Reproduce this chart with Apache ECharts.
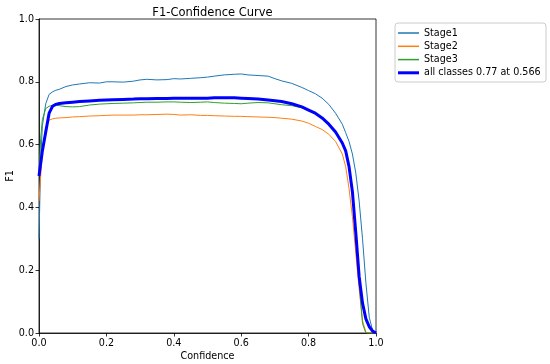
<!DOCTYPE html>
<html><head><meta charset="utf-8">
<script src="https://cdn.jsdelivr.net/npm/echarts@6/dist/echarts.min.js"></script>
<style>html,body{margin:0;padding:0;background:#fff}#c{width:550px;height:364px}</style>
</head><body><div id="c"></div>
<script>
const confidence = [0,0.005,0.01,0.02,0.03,0.04,0.05,0.06,0.08,0.1,0.12,0.15,0.18,0.2,0.22,0.25,0.28,0.3,0.32,0.35,0.38,0.4,0.42,0.45,0.48,0.5,0.52,0.55,0.58,0.6,0.62,0.65,0.68,0.7,0.72,0.75,0.78,0.8,0.82,0.84,0.86,0.88,0.9,0.91,0.92,0.93,0.94,0.95,0.96,0.97,0.98,0.99,1.0];
const stage1 = [0.30,0.55,0.66,0.73,0.76,0.768,0.773,0.776,0.785,0.79,0.793,0.797,0.796,0.80,0.80,0.799,0.802,0.806,0.808,0.806,0.807,0.81,0.809,0.811,0.813,0.815,0.818,0.822,0.824,0.825,0.822,0.82,0.818,0.81,0.803,0.795,0.782,0.772,0.762,0.748,0.728,0.70,0.665,0.638,0.61,0.57,0.51,0.42,0.30,0.16,0.05,0.008,0];
const stage2 = [0.42,0.50,0.58,0.655,0.678,0.682,0.684,0.685,0.686,0.688,0.689,0.691,0.692,0.693,0.694,0.694,0.694,0.695,0.695,0.696,0.697,0.696,0.694,0.695,0.693,0.693,0.692,0.691,0.690,0.690,0.689,0.688,0.687,0.686,0.684,0.681,0.675,0.668,0.658,0.648,0.633,0.61,0.57,0.53,0.46,0.37,0.255,0.14,0.04,0.002,0,0,0];
const stage3 = [0.50,0.62,0.68,0.715,0.722,0.725,0.726,0.724,0.721,0.72,0.721,0.726,0.729,0.73,0.731,0.732,0.733,0.734,0.735,0.735,0.736,0.736,0.735,0.734,0.735,0.736,0.734,0.732,0.731,0.73,0.732,0.734,0.733,0.73,0.727,0.724,0.717,0.708,0.697,0.683,0.663,0.64,0.605,0.575,0.53,0.44,0.31,0.16,0.03,0.0,0,0,0];
const allClasses = [0.50,0.54,0.58,0.64,0.70,0.722,0.728,0.731,0.733,0.735,0.737,0.739,0.741,0.742,0.743,0.744,0.745,0.746,0.746,0.747,0.747,0.748,0.748,0.748,0.748,0.748,0.749,0.749,0.749,0.748,0.747,0.745,0.742,0.74,0.737,0.73,0.72,0.71,0.70,0.685,0.665,0.64,0.605,0.58,0.53,0.45,0.32,0.18,0.095,0.045,0.02,0.006,0];
const seriesNames = ['Stage1','Stage2','Stage3','all classes 0.77 at 0.566'];
const seriesColors = ['#1f77b4','#ff7f0e','#2ca02c','#0000ff'];
const ticks = [0,0.2,0.4,0.6,0.8,1.0];

const pairs = arr => confidence.map((x,i)=>[x,arr[i]]);
const datas = [stage1,stage2,stage3,allClasses];
const FONT = 'DejaVu Sans';
const FS = 9.6;
const chart = echarts.init(document.getElementById('c'), null, {renderer:'canvas'});
const axisCommon = {
  type:'value', min:0, max:1, interval:0.2,
  axisLine:{show:true,lineStyle:{color:'#000',width:0.8}},
  axisTick:{show:true,inside:false,length:3.5,lineStyle:{color:'#000',width:0.8}},
  axisLabel:{fontFamily:FONT,fontSize:FS,color:'#000',margin:5,formatter:v=>v.toFixed(1)},
  splitLine:{show:false},
  nameLocation:'middle',
  nameMoveOverlap:false,
  nameTextStyle:{fontFamily:FONT,fontSize:FS,color:'#000'}
};
chart.setOption({
  animation:false,
  backgroundColor:'#fff',
  title:{text:'F1-Confidence Curve',left:207.5,textAlign:'center',top:2,
    textStyle:{fontFamily:FONT,fontSize:11.5,fontWeight:'normal',color:'#000'}},
  grid:{left:39,right:174,top:19,bottom:31,containLabel:false,outerBoundsMode:'none',show:true,borderColor:'#000',borderWidth:0.8,backgroundColor:'transparent'},
  xAxis:Object.assign({},axisCommon,{name:'Confidence',nameGap:18}),
  yAxis:Object.assign({},axisCommon,{name:'F1',nameGap:24}),
  legend:[
    {data:seriesNames.slice(0,3),orient:'vertical',left:398,top:22,icon:'rect',itemWidth:21,itemHeight:1.5,itemGap:1.3,padding:[5,0,5,0],
     textStyle:{fontFamily:FONT,fontSize:FS,color:'#000',lineHeight:12,padding:0}},
    {data:seriesNames.slice(3),orient:'vertical',left:398,top:61.8,icon:'rect',itemWidth:21,itemHeight:3,itemGap:1.3,padding:[5,0,5,0],
     textStyle:{fontFamily:FONT,fontSize:FS,color:'#000',lineHeight:12,padding:0}}
  ],
  graphic:[{type:'rect',shape:{x:395,y:23,width:151,height:59,r:3},style:{fill:'none',stroke:'#cccccc',lineWidth:1},z:-1}],
  series:datas.map((d,i)=>({
    name:seriesNames[i],type:'line',data:pairs(d),showSymbol:false,symbol:'none',
    lineStyle:{color:seriesColors[i],width:i===3?3:1},itemStyle:{color:seriesColors[i]},
    z:i===3?5:2,clip:true
  }))
});
</script></body></html>
